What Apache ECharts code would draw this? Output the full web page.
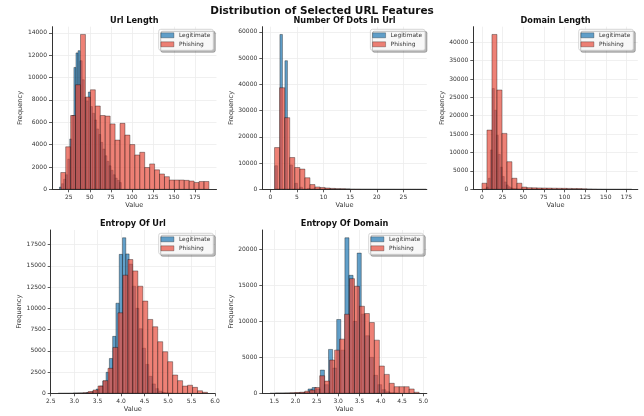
<!DOCTYPE html>
<html>
<head>
<meta charset="utf-8">
<script src="https://cdn.jsdelivr.net/npm/echarts@6/dist/echarts.min.js"></script>
<style>
  html, body { margin: 0; padding: 0; background: #fff; }
  #chart { width: 644px; height: 416px; }
</style>
</head>
<body>
<div id="chart"></div>
<script>
// ---- data (histogram bins: first edge, bin width, counts) ----
// Url Length
var urlLenLegitStart = 14, urlLenLegitStep = 2.45
var urlLenLegit = [200, 500, 900, 1300, 2700, 4500, 6600, 10900, 12200, 12400, 11500, 9800, 8200, 7900, 8700,
  7400, 6800, 6200, 5400, 4900, 4200, 3600, 3000, 2500, 2100, 1700, 1300, 1000, 800, 600]
var urlLenPhishStart = 15.5, urlLenPhishStep = 5.87
var urlLenPhish = [1500, 3800, 6600, 9350, 13850, 8250, 8900, 7450, 6600, 6550, 5850, 4400, 5900, 4850, 4000,
  3070, 3310, 1950, 2270, 1740, 1370, 1130, 830, 830, 830, 800, 740, 610, 700, 700]
var urlLenXTicks = [25, 50, 75, 100, 125, 150, 175]
var urlLenYTicks = [0, 2000, 4000, 6000, 8000, 10000, 12000, 14000]

// Number Of Dots In Url
var dotsLegitStart = 0.87, dotsLegitStep = 0.47
var dotsLegit = [9000, 0, 59000, 0, 49000, 0, 9300, 0, 2300, 0, 800, 0, 0, 350, 0,
  150, 0, 80, 0, 50, 0, 30, 0, 20, 0, 10, 0, 5, 0, 3]
var dotsPhishStart = 0.8, dotsPhishStep = 0.95
var dotsPhish = [15900, 38700, 27300, 12100, 8300, 7700, 4400, 1800, 900, 700, 500, 350, 250, 200, 150,
  100, 80, 60, 50, 40, 30, 25, 20, 15, 10, 10, 8, 5, 5, 3]
var dotsXTicks = [0, 5, 10, 15, 20, 25]
var dotsYTicks = [0, 10000, 20000, 30000, 40000, 50000, 60000]

// Domain Length
var domLegitStart = 3, domLegitStep = 2.4
var domLegit = [100, 600, 3000, 10700, 27400, 21500, 14700, 9500, 6000, 3500, 2000, 1200, 700, 400, 250,
  150, 100, 60, 40, 25, 15, 10, 8, 5, 3, 2, 1, 1, 0, 0]
var domPhishStart = 0, domPhishStep = 6.05
var domPhish = [1650, 16100, 42100, 27000, 15200, 7500, 3000, 1650, 600, 450, 400, 380, 350, 330, 300,
  280, 260, 240, 220, 200, 150, 100, 60, 30, 10, 5, 3, 2, 1, 1]
var domXTicks = [0, 25, 50, 75, 100, 125, 150, 175]
var domYTicks = [0, 5000, 10000, 15000, 20000, 25000, 30000, 35000, 40000]

// Entropy Of Url
var entUrlLegitStart = 2.98, entUrlLegitStep = 0.07
var entUrlLegit = [5, 10, 20, 40, 80, 150, 280, 500, 850, 1450, 2470, 4100, 6700, 10600, 16350,
  18300, 16400, 15200, 12600, 10000, 7600, 5300, 3400, 2000, 1100, 550, 250, 100, 40, 15]
var entUrlPhishStart = 2.66, entUrlPhishStep = 0.106
var entUrlPhish = [3, 5, 8, 15, 30, 60, 200, 390, 860, 1490, 2940, 5400, 9470, 13900, 15740,
  14400, 12600, 10850, 8690, 7830, 6070, 4890, 3720, 2150, 1490, 850, 950, 700, 300, 120]
var entUrlXTicks = [2.5, 3.0, 3.5, 4.0, 4.5, 5.0, 5.5, 6.0]
var entUrlYTicks = [0, 2500, 5000, 7500, 10000, 12500, 15000, 17500]

// Entropy Of Domain
var entDomLegitStart = 1.526, entDomLegitStep = 0.096
var entDomLegit = [5, 0, 10, 20, 30, 50, 60, 150, 600, 800, 600, 3230, 1200, 6100, 3500,
  10260, 6000, 21620, 16400, 10000, 19490, 11000, 8000, 5000, 2500, 1200, 500, 200, 80, 30]
var entDomPhishStart = 1.4, entDomPhishStep = 0.11667
var entDomPhish = [5, 10, 20, 40, 60, 100, 150, 300, 450, 800, 2440, 1700, 4620, 6000, 7530,
  10990, 15940, 14870, 12100, 11090, 9840, 7390, 3790, 2630, 1390, 920, 920, 920, 600, 150]
var entDomXTicks = [1.5, 2.0, 2.5, 3.0, 3.5, 4.0, 4.5, 5.0]
var entDomYTicks = [0, 5000, 10000, 15000, 20000]

// ---- styling ----
var FONT = 'DejaVu Sans'
var LEGIT_COLOR = '#1f77b4'
var PHISH_COLOR = '#e74c3c'
var AXIS_COLOR = '#333'

function bins(start, step, counts) {
  return counts.map(function (c, i) { return [start + i * step, start + (i + 1) * step, c] })
}

var panels = [
  { title: 'Url Length', grid: { left: 52, top: 26.7, width: 164.5, height: 162.6 },
    xMin: 5.1, xMax: 200.6, xTicks: urlLenXTicks, yTicks: urlLenYTicks, dec: 0, nameGap: 28,
    legit: bins(urlLenLegitStart, urlLenLegitStep, urlLenLegit),
    phish: bins(urlLenPhishStart, urlLenPhishStep, urlLenPhish), legend: { right: 430.7, top: 29.3 } },
  { title: 'Number Of Dots In Url', grid: { left: 262.3, top: 26.7, width: 164.5, height: 162.6 },
    xMin: -1.5, xMax: 29.4, xTicks: dotsXTicks, yTicks: dotsYTicks, dec: 0, nameGap: 28,
    legit: bins(dotsLegitStart, dotsLegitStep, dotsLegit),
    phish: bins(dotsPhishStart, dotsPhishStep, dotsPhish), legend: { right: 219, top: 29.3 } },
  { title: 'Domain Length', grid: { left: 473.3, top: 26.7, width: 164.5, height: 162.6 },
    xMin: -10.5, xMax: 188.8, xTicks: domXTicks, yTicks: domYTicks, dec: 0, nameGap: 27,
    legit: bins(domLegitStart, domLegitStep, domLegit),
    phish: bins(domPhishStart, domPhishStep, domPhish), legend: { right: 10.7, top: 29.3 } },
  { title: 'Entropy Of Url', grid: { left: 50.7, top: 230, width: 164.3, height: 163.3 },
    xMin: 2.5, xMax: 6.0, xTicks: entUrlXTicks, yTicks: entUrlYTicks, dec: 1, nameGap: 28,
    legit: bins(entUrlLegitStart, entUrlLegitStep, entUrlLegit),
    phish: bins(entUrlPhishStart, entUrlPhishStep, entUrlPhish), legend: { right: 430.7, top: 233.3 } },
  { title: 'Entropy Of Domain', grid: { left: 262.3, top: 230, width: 164.5, height: 163.3 },
    xMin: 1.22, xMax: 5.08, xTicks: entDomXTicks, yTicks: entDomYTicks, dec: 1, nameGap: 27,
    legit: bins(entDomLegitStart, entDomLegitStep, entDomLegit),
    phish: bins(entDomPhishStart, entDomPhishStep, entDomPhish), legend: { right: 220.7, top: 233.3 } }
]

function barRenderer(color) {
  return function (params, api) {
    var p0 = api.coord([api.value(0), api.value(2)])
    var p1 = api.coord([api.value(1), 0])
    return {
      type: 'rect',
      shape: { x: p0[0], y: p0[1], width: p1[0] - p0[0], height: p1[1] - p0[1] },
      style: { fill: color, stroke: '#000', lineWidth: 0.5, opacity: 0.7 }
    }
  }
}

var grids = [], xAxes = [], yAxes = [], series = [], legends = [], titles = []

panels.forEach(function (p, i) {
  var yMax = Math.max.apply(null, p.legit.concat(p.phish).map(function (d) { return d[2] })) * 1.05
  grids.push(Object.assign({ outerBoundsMode: 'none', containLabel: false }, p.grid))

  xAxes.push({
    type: 'value', gridIndex: i, min: p.xMin, max: p.xMax,
    name: 'Value', nameLocation: 'middle', nameGap: 12,
    nameTextStyle: { fontSize: 6.6, color: AXIS_COLOR, fontFamily: FONT },
    axisLine: { show: true, onZero: false, lineStyle: { color: AXIS_COLOR, width: 1 } },
    axisTick: { show: true, customValues: p.xTicks, length: 3, lineStyle: { color: AXIS_COLOR, width: 0.8 } },
    axisLabel: { customValues: p.xTicks, fontSize: 6, color: AXIS_COLOR, fontFamily: FONT, margin: 5,
      formatter: function (v) { return v.toFixed(p.dec) } },
    splitLine: { show: true, lineStyle: { color: '#ececec', width: 0.8 } }
  })

  yAxes.push({
    type: 'value', gridIndex: i, min: 0, max: yMax,
    name: 'Frequency', nameLocation: 'middle', nameGap: p.nameGap,
    nameTextStyle: { fontSize: 6.6, color: AXIS_COLOR, fontFamily: FONT },
    axisLine: { show: true, onZero: false, lineStyle: { color: AXIS_COLOR, width: 1 } },
    axisTick: { show: true, customValues: p.yTicks, length: 3, lineStyle: { color: AXIS_COLOR, width: 0.8 } },
    axisLabel: { customValues: p.yTicks, fontSize: 6, color: AXIS_COLOR, fontFamily: FONT, margin: 5,
      formatter: function (v) { return String(v) } },
    splitLine: { show: true, lineStyle: { color: '#ececec', width: 0.8 } }
  })

  series.push({
    name: 'Legitimate', type: 'custom', xAxisIndex: i, yAxisIndex: i, clip: true,
    itemStyle: { color: LEGIT_COLOR, opacity: 0.7 },
    encode: { x: [0, 1], y: 2 }, renderItem: barRenderer(LEGIT_COLOR), data: p.legit
  })
  series.push({
    name: 'Phishing', type: 'custom', xAxisIndex: i, yAxisIndex: i, clip: true,
    itemStyle: { color: PHISH_COLOR, opacity: 0.7 },
    encode: { x: [0, 1], y: 2 }, renderItem: barRenderer(PHISH_COLOR), data: p.phish
  })

  legends.push({
    orient: 'vertical', right: p.legend.right, top: p.legend.top,
    icon: 'rect', itemWidth: 13, itemHeight: 5, itemGap: 3,
    padding: [3, 3, 3, 2],
    backgroundColor: 'rgba(255,255,255,0.9)', borderColor: '#cccccc', borderWidth: 0.8, borderRadius: 2,
    shadowColor: 'rgba(0,0,0,0.3)', shadowOffsetX: 2, shadowOffsetY: 2, shadowBlur: 0,
    textStyle: { fontSize: 5.9, color: AXIS_COLOR, fontFamily: FONT, lineHeight: 6 },
    data: [
      { name: 'Legitimate', itemStyle: { color: LEGIT_COLOR, opacity: 0.7, borderColor: '#000', borderWidth: 0.4 } },
      { name: 'Phishing', itemStyle: { color: PHISH_COLOR, opacity: 0.7, borderColor: '#000', borderWidth: 0.4 } }
    ]
  })

  titles.push({
    type: 'text',
    x: p.grid.left + p.grid.width / 2,
    y: p.grid.top - 6.3,
    style: { text: p.title, align: 'center', verticalAlign: 'middle',
      font: 'bold 8.2px "DejaVu Sans"', fill: '#111' }
  })
})

var chart = echarts.init(document.getElementById('chart'), null, { renderer: 'canvas' })
chart.setOption({
  animation: false,
  backgroundColor: '#fff',
  title: {
    text: 'Distribution of Selected URL Features', left: 'center', top: 1,
    textStyle: { fontSize: 10.5, fontWeight: 'bold', color: '#111', fontFamily: FONT }
  },
  graphic: titles,
  legend: legends,
  grid: grids,
  xAxis: xAxes,
  yAxis: yAxes,
  series: series
})
</script>
</body>
</html>
